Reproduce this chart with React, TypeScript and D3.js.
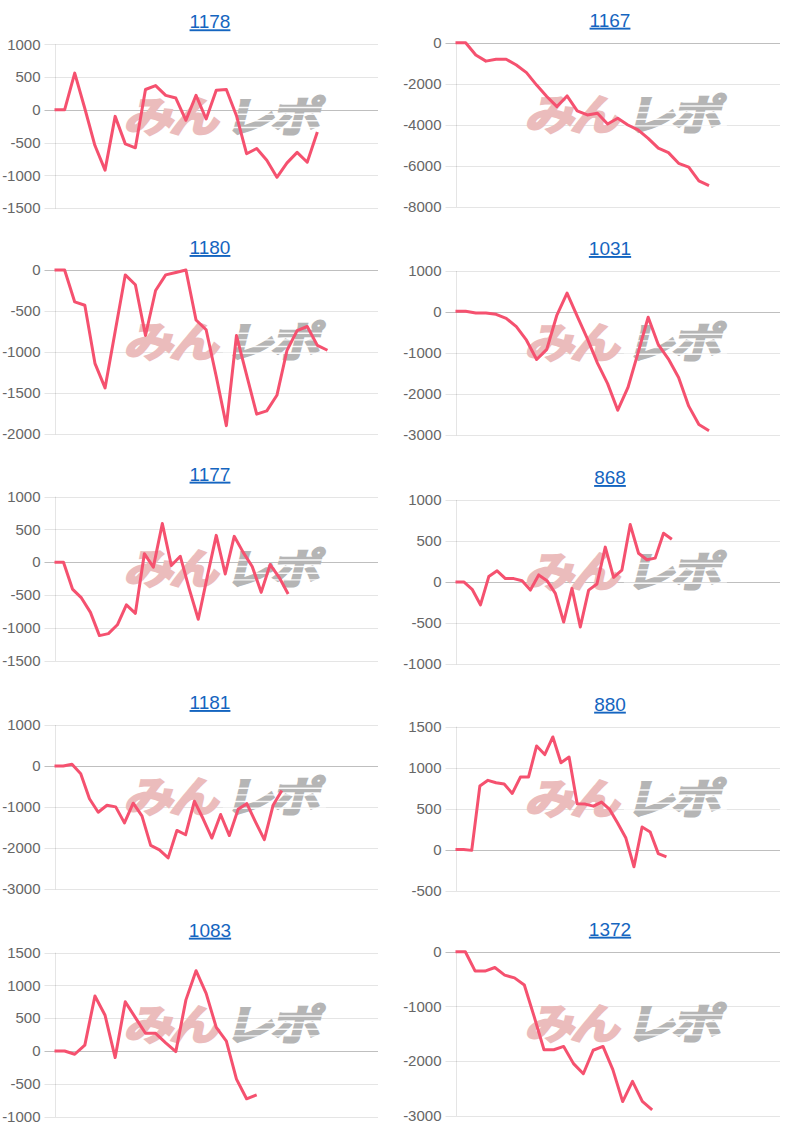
import React from 'react';
import * as d3 from 'd3';

// ---- data ----
const titles = ['1178', '1167', '1180', '1031', '1177', '868', '1181', '880', '1083', '1372'];

const s1178 = [0, 0, 560, 20, -545, -920, -100, -520, -580, 310, 370, 220, 180, -160, 220, -140, 300, 310, -90, -670, -590, -770, -1030, -810, -650, -800, -340];
const s1167 = [0, 0, -600, -900, -810, -810, -1090, -1460, -2070, -2630, -3120, -2600, -3330, -3530, -3450, -3970, -3690, -4020, -4260, -4670, -5150, -5370, -5890, -6080, -6750, -6980];
const s1180 = [0, 0, -390, -430, -1140, -1440, -750, -60, -180, -800, -250, -60, -30, 0, -610, -730, -1300, -1900, -800, -1280, -1760, -1720, -1530, -980, -740, -690, -920, -980];
const s1031 = [15, 15, -25, -25, -57, -155, -360, -690, -1160, -915, -75, 460, -100, -650, -1250, -1750, -2400, -1850, -1000, -130, -800, -1150, -1600, -2300, -2750, -2900];
const s1177 = [0, 0, -410, -545, -765, -1120, -1090, -955, -650, -780, 130, -75, 590, -50, 90, -410, -870, -220, 410, -180, 395, 150, -65, -460, -35, -230, -485];
const s868 = [0, 0, -90, -280, 65, 135, 40, 40, 15, -100, 85, 15, -140, -490, -80, -550, -100, -25, 425, 55, 145, 700, 350, 270, 290, 595, 520];
const s1181 = [0, 0, 40, -190, -800, -1130, -960, -1000, -1390, -910, -1220, -1940, -2050, -2245, -1575, -1680, -860, -1290, -1760, -1185, -1700, -1060, -920, -1370, -1800, -960, -600];
const s880 = [0, 0, -10, 775, 845, 815, 800, 685, 885, 885, 1265, 1160, 1375, 1060, 1130, 560, 555, 530, 580, 490, 320, 140, -210, 275, 215, -50, -90];
const s1083 = [0, 0, -50, 90, 840, 545, -100, 750, 510, 270, 270, 125, -10, 780, 1225, 880, 360, 150, -430, -730, -670];
const s1372 = [0, 0, -355, -355, -290, -430, -480, -610, -1190, -1795, -1795, -1735, -2050, -2235, -1805, -1735, -2160, -2745, -2375, -2740, -2895];

const seriesList = [s1178, s1167, s1180, s1031, s1177, s868, s1181, s880, s1083, s1372];

// number of x-axis label slots (steps) on each chart
const xSteps = [32, 32, 32, 32, 36, 39, 37, 40, 32, 33];

const yMins = [-1500, -8000, -2000, -3000, -1500, -1000, -3000, -500, -1000, -3000];
const yMaxs = [1000, 0, 0, 1000, 1000, 1000, 1000, 1500, 1500, 0];
const yStepSizes = [500, 2000, 500, 1000, 500, 500, 1000, 500, 500, 1000];

// ---- layout ----
const W = 797;
const H = 1130;
const colLeft = [54.5, 455.5];
const colRight = [378, 780];
const colTitleX = [210, 610];
const tops = [
  [44.3, 270, 496.7, 725, 952.7],
  [42.7, 271, 500, 726.7, 951.7],
];
const plotH = 163.8;
const LINE_COLOR = '#f5516f';
const FONT = '"Liberation Sans", Arial, Helvetica, sans-serif';
const CJK = '"Noto Sans CJK JP", sans-serif';

function Watermark({ x, y }: { x: number; y: number }) {
  // approximated logo "みんレポ"
  return (
    <g transform={`translate(${x},${y})`} pointerEvents="none">
      <g transform="skewX(-14) scale(1.12,0.95)">
        <text
          x={2}
          y={36}
          fontFamily={CJK}
          fontWeight={700}
          fontSize={44}
          fill="#ebbcbc"
          stroke="#ebbcbc"
          strokeWidth={2.5}
          letterSpacing={-3}
        >
          みん
        </text>
        <text
          x={92}
          y={36}
          fontFamily={CJK}
          fontWeight={700}
          fontSize={44}
          fill="#b5b5b5"
          stroke="#b5b5b5"
          strokeWidth={2.5}
          letterSpacing={-3}
        >
          レポ
        </text>
        {[10, 17, 24, 31].map((dy) => (
          <rect key={dy} x={90} y={dy} width={92} height={1.5} fill="#ffffff" opacity={0.9} />
        ))}
      </g>
    </g>
  );
}

function MiniChart({ idx }: { idx: number }) {
  const col = idx % 2;
  const row = Math.floor(idx / 2);
  const left = colLeft[col];
  const right = colRight[col];
  const top = tops[col][row];
  const bottom = top + plotH;
  const data = seriesList[idx];

  const x = d3.scaleLinear().domain([0, xSteps[idx]]).range([left, right]);
  const y = d3.scaleLinear().domain([yMins[idx], yMaxs[idx]]).range([bottom, top]);
  const ticks = d3.range(yMins[idx], yMaxs[idx] + 1, yStepSizes[idx]);

  const line = d3
    .line<number>()
    .x((_, i) => x(i))
    .y((d) => y(d))
    .curve(d3.curveLinear);

  return (
    <g>
      <text
        x={colTitleX[col]}
        y={top - 16}
        textAnchor="middle"
        fontFamily={FONT}
        fontSize={19}
        fill="#1565c0"
        style={{ textDecoration: 'underline' }}
      >
        {titles[idx]}
      </text>
      {ticks.map((t) => (
        <g key={t}>
          <line
            x1={left - 10}
            x2={right}
            y1={Math.round(y(t)) + 0.5}
            y2={Math.round(y(t)) + 0.5}
            stroke={t === 0 ? 'rgba(0,0,0,0.25)' : 'rgba(0,0,0,0.1)'}
            strokeWidth={1}
          />
          <text
            x={left - 14}
            y={y(t)}
            dy="0.35em"
            textAnchor="end"
            fontFamily={FONT}
            fontSize={15}
            fill="#666"
          >
            {t}
          </text>
        </g>
      ))}
      <line
        x1={Math.round(left) + 0.5}
        x2={Math.round(left) + 0.5}
        y1={top}
        y2={bottom + 0.5}
        stroke="rgba(0,0,0,0.1)"
        strokeWidth={1}
      />
      <Watermark x={left + 75} y={top + 53} />
      <path
        d={line(data) || ''}
        fill="none"
        stroke={LINE_COLOR}
        strokeWidth={3}
        strokeLinejoin="round"
        strokeLinecap="butt"
      />
    </g>
  );
}

export default function App() {
  return (
    <svg
      width={W}
      height={H}
      viewBox={`0 0 ${W} ${H}`}
      style={{ position: 'fixed', left: 0, top: 0, background: '#fff' }}
    >
      <rect x={0} y={0} width={W} height={H} fill="#fff" />
      {titles.map((_, i) => (
        <MiniChart key={i} idx={i} />
      ))}
    </svg>
  );
}
